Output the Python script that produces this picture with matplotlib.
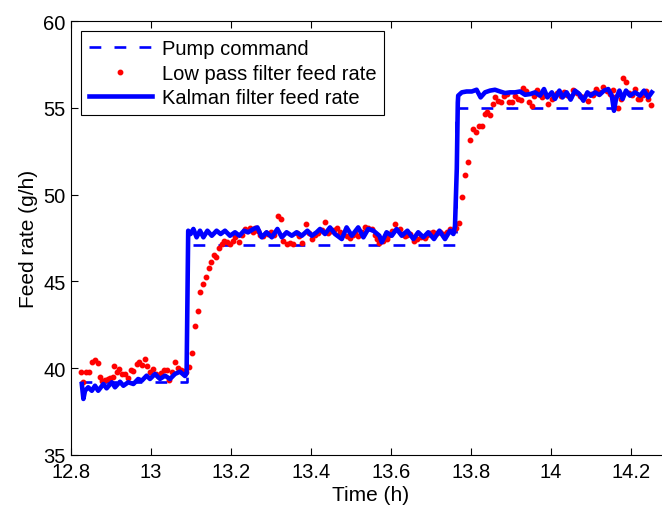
import matplotlib
matplotlib.use("Agg")
import matplotlib.pyplot as plt

plt.rcParams['font.family'] = ['Liberation Sans', 'DejaVu Sans']
plt.rcParams['font.size'] = 14.5
plt.rcParams['lines.scale_dashes'] = False

# Pump command (step profile)
pump_time = [12.8225, 13.089, 13.089, 13.7625, 13.7625, 14.2475]
pump_rate = [39.2, 39.2, 47.1, 47.1, 55.0, 55.0]

# Low pass filter feed rate (dots)
lp_time = [
    12.824, 12.831, 12.838, 12.845, 12.852, 12.860, 12.867, 12.873, 12.878, 12.885,
    12.892, 12.898, 12.904, 12.908, 12.914, 12.921, 12.928, 12.935, 12.942, 12.949,
    12.956, 12.964, 12.970, 12.977, 12.984, 12.991, 12.998, 13.005, 13.012, 13.018,
    13.025, 13.032, 13.039, 13.046, 13.053, 13.061, 13.068, 13.075, 13.081, 13.088,
    13.096, 13.103, 13.110, 13.117, 13.123, 13.130, 13.137, 13.144, 13.151, 13.157,
    13.163, 13.170, 13.177, 13.183, 13.190, 13.197,
    13.204, 13.211, 13.220, 13.2275, 13.235, 13.241, 13.2475, 13.254, 13.260, 13.267,
    13.2735, 13.280, 13.287, 13.293, 13.300, 13.307, 13.317, 13.325, 13.331, 13.339,
    13.3475, 13.356, 13.364, 13.371, 13.378, 13.387, 13.395, 13.403, 13.411, 13.418,
    13.4265, 13.435, 13.443, 13.450, 13.457, 13.464, 13.4725, 13.481, 13.489, 13.4975,
    13.505, 13.511, 13.518, 13.527, 13.535, 13.543, 13.552, 13.559, 13.565, 13.571,
    13.580, 13.589, 13.596, 13.603, 13.610, 13.6225, 13.629, 13.635, 13.641, 13.6475,
    13.6565, 13.6655, 13.675, 13.685, 13.691, 13.6975, 13.706, 13.714, 13.7225, 13.731,
    13.739, 13.7475, 13.755, 13.7615, 13.770,
    13.778, 13.785, 13.792, 13.798, 13.806, 13.8125, 13.820, 13.827, 13.835, 13.841,
    13.8475, 13.854, 13.860, 13.868, 13.875, 13.882, 13.889, 13.896, 13.9025, 13.910,
    13.918, 13.924, 13.931, 13.9375, 13.946, 13.952, 13.958, 13.964, 13.971, 13.978,
    13.9855, 13.993, 14.002, 14.009, 14.016, 14.024, 14.0325, 14.040, 14.048, 14.056,
    14.064, 14.0725, 14.081, 14.093, 14.100, 14.106, 14.1125, 14.120, 14.131, 14.140,
    14.1475, 14.154, 14.161, 14.168, 14.1755, 14.181, 14.1875, 14.195, 14.2025, 14.210,
    14.217, 14.2225, 14.230, 14.2375, 14.243, 14.251,
]
lp_rate = [
    39.76, 39.22, 39.80, 39.78, 40.37, 40.49, 40.30, 39.48, 39.25, 39.34,
    39.38, 39.42, 39.50, 40.11, 39.80, 39.95, 39.67, 39.67, 39.42, 39.91,
    39.84, 40.24, 40.34, 40.18, 40.53, 40.14, 39.76, 39.95, 39.68, 39.57,
    39.70, 39.91, 39.88, 39.34, 39.80, 40.34, 39.99, 39.91, 39.86, 39.80,
    40.05, 40.88, 42.45, 43.31, 44.41, 44.85, 45.24, 45.75, 46.14, 46.52,
    46.39, 46.91, 47.15, 47.34, 47.29, 47.15,
    47.35, 47.55, 47.27, 47.70, 48.00, 47.90, 48.05, 47.85, 48.09, 47.90,
    47.70, 47.60, 47.80, 47.71, 47.85, 47.65, 48.77, 48.58, 47.33, 47.14,
    47.23, 47.14, 47.80, 47.60, 47.23, 48.32, 47.80, 47.43, 47.65, 47.80,
    47.95, 48.44, 47.80, 47.90, 47.95, 48.09, 47.85, 47.71, 47.60, 47.52,
    47.70, 47.80, 47.61, 47.85, 48.11, 48.09, 48.00, 47.70, 47.45, 47.23,
    47.35, 47.43, 47.70, 47.90, 48.32, 48.00, 47.75, 47.60, 47.70, 47.71,
    47.30, 47.43, 47.54, 47.52, 47.65, 47.80, 47.83, 47.80, 47.83, 47.71,
    47.85, 48.00, 47.90, 48.10, 48.35,
    49.84, 51.13, 51.90, 53.16, 53.78, 53.62, 53.97, 53.97, 54.64, 54.78,
    54.60, 55.22, 55.60, 55.41, 55.35, 55.70, 55.80, 55.35, 55.35, 55.70,
    55.50, 55.47, 56.12, 55.94, 55.35, 55.12, 55.70, 56.00, 55.80, 55.60,
    55.75, 55.22, 55.51, 55.75, 55.85, 55.70, 55.89, 55.75, 55.65, 56.04,
    55.85, 55.70, 55.60, 55.41, 55.80, 55.75, 56.08, 55.90, 56.18, 55.95,
    55.80, 56.04, 55.60, 54.97, 55.51, 56.70, 56.47, 55.85, 55.75, 56.08,
    55.51, 55.51, 55.75, 55.99, 55.51, 55.16,
]

# Kalman filter feed rate (thick line)
kf_time = [
    12.827, 12.831, 12.835, 12.843, 12.852, 12.860, 12.868, 12.881, 12.889, 12.902,
    12.910, 12.9225, 12.931, 12.943, 12.956, 12.968, 12.977, 12.989, 12.9975, 13.010,
    13.0225, 13.035, 13.0475, 13.060, 13.0725, 13.085, 13.089,
    13.093, 13.099, 13.106, 13.114, 13.1225, 13.131, 13.141, 13.152, 13.164, 13.174,
    13.185, 13.1975, 13.210, 13.221, 13.2325, 13.243, 13.256, 13.266, 13.277, 13.289,
    13.302, 13.316, 13.327, 13.339, 13.352, 13.364, 13.377, 13.391, 13.402, 13.414,
    13.4225, 13.435, 13.4475, 13.460, 13.477, 13.489, 13.502, 13.518, 13.531, 13.543,
    13.556, 13.571, 13.577, 13.589, 13.602, 13.614, 13.627, 13.641, 13.656, 13.668,
    13.681, 13.693, 13.7075, 13.721, 13.735, 13.7475, 13.756, 13.760, 13.7625, 13.7645,
    13.767, 13.768, 13.777, 13.789, 13.802, 13.814, 13.824, 13.835, 13.8475, 13.860,
    13.8725, 13.885, 13.8975, 13.910, 13.9225, 13.935, 13.9475, 13.960, 13.9725, 13.9825,
    13.991, 14.002, 14.010, 14.021, 14.029, 14.039, 14.049, 14.060, 14.071, 14.081,
    14.091, 14.099, 14.110, 14.121, 14.1325, 14.143, 14.152, 14.1575, 14.1625, 14.171,
    14.179, 14.1875, 14.1975, 14.210, 14.2225, 14.2325, 14.243, 14.252,
]
kf_rate = [
    39.09, 38.23, 38.70, 38.90, 38.70, 38.99, 38.70, 39.09, 38.84, 39.19,
    38.90, 39.22, 38.99, 39.19, 39.09, 39.38, 39.28, 39.57, 39.38, 39.67,
    39.38, 39.57, 39.38, 39.67, 39.80, 39.55, 39.70,
    47.92, 47.73, 48.02, 47.54, 47.92, 47.54, 47.92, 47.63, 47.92, 47.73,
    47.92, 47.63, 47.83, 47.63, 47.92, 47.83, 48.02, 48.11, 47.54, 47.83,
    47.54, 48.02, 47.54, 47.83, 47.63, 47.83, 47.63, 47.92, 47.63, 47.83,
    48.02, 47.73, 48.11, 47.73, 47.44, 48.11, 47.63, 48.11, 47.54, 48.02,
    47.92, 47.63, 47.25, 47.83, 47.63, 48.02, 47.63, 47.92, 47.44, 47.83,
    47.54, 47.83, 47.44, 47.92, 47.44, 47.92, 47.73, 48.20, 50.00, 51.50,
    55.30, 55.70, 55.89, 55.94, 55.94, 56.04, 55.60, 55.89, 55.99, 56.04,
    55.94, 55.85, 55.89, 55.89, 55.94, 55.75, 55.79, 55.89, 55.70, 56.08,
    55.60, 55.89, 55.51, 55.99, 55.60, 55.89, 55.47, 55.99, 55.79, 55.41,
    55.89, 55.70, 55.89, 55.74, 55.99, 56.08, 55.70, 54.83, 55.51, 55.99,
    55.51, 55.99, 55.70, 55.89, 55.70, 55.99, 55.60, 55.89,
]

x_ticks = [12.8, 13.0, 13.2, 13.4, 13.6, 13.8, 14.0, 14.2]
x_tick_labels = ['12.8', '13', '13.2', '13.4', '13.6', '13.8', '14', '14.2']
y_ticks = [35, 40, 45, 50, 55, 60]

fig = plt.figure(figsize=(6.62, 5.10), dpi=100)
# right edge of the axes runs past the figure, as in the cropped original
ax = fig.add_axes([71 / 662, 54 / 510, 600 / 662, 434 / 510])

ax.plot(pump_time, pump_rate, color='blue', linewidth=1.9, linestyle=(0, (8.5, 9.5)),
        label='Pump command')
ax.plot(lp_time, lp_rate, linestyle='none', marker='o', markersize=3.2,
        markerfacecolor='red', markeredgecolor='red', label='Low pass filter feed rate')
ax.plot(kf_time, kf_rate, color='blue', linewidth=3.3, label='Kalman filter feed rate')

ax.set_xlim(12.8, 14.3)
ax.set_ylim(35, 60)
ax.set_xticks(x_ticks)
ax.set_xticklabels(x_tick_labels)
ax.set_yticks(y_ticks)
ax.tick_params(direction='in', top=True, right=True, length=5, width=0.8)
ax.tick_params(axis='x', pad=5)
ax.tick_params(axis='y', pad=4)
for sp in ax.spines.values():
    sp.set_linewidth(0.8)

ax.set_xlabel('Time (h)', fontsize=15, labelpad=3)
ax.set_ylabel('Feed rate (g/h)', fontsize=15, labelpad=4)

leg = ax.legend(loc='upper left', bbox_to_anchor=(0.0167, 0.977), borderaxespad=0,
                fancybox=False, framealpha=1, edgecolor='black', handlelength=3.1,
                handletextpad=0.5, labelspacing=0.28, borderpad=0.4, numpoints=1)
leg.get_frame().set_linewidth(0.8)

fig.savefig('out.png', dpi=100)
